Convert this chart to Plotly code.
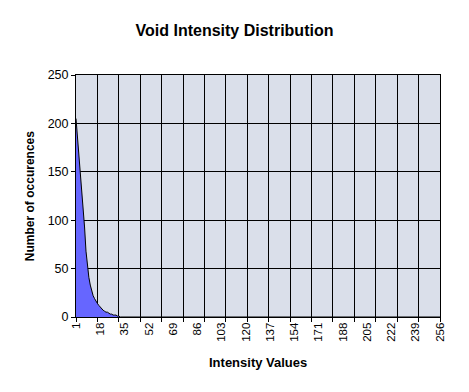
import plotly.graph_objects as go

# Data
categories = list(range(1, 257))
head_values = [205, 186, 175, 150, 131, 112, 93, 68, 52, 41, 33, 27, 22, 19, 16,
               14, 12, 10, 9, 7, 6, 5, 5, 4, 3, 3, 2, 2, 2, 1, 1]
occurrences = head_values + [0] * (len(categories) - len(head_values))
tick_labels = [str(v) for v in range(1, 257, 17)]
tick_label_vals = list(range(1, 257, 17))
grid_vals = list(range(1, 257, 15))

FONT = "Liberation Sans, Arial, sans-serif"

fig = go.Figure()
fig.add_trace(go.Scatter(
    x=categories, y=occurrences, mode="lines", fill="tozeroy",
    fillcolor="#6666FF", line=dict(color="black", width=1),
    hoverinfo="x+y", showlegend=False,
))
# invisible helper trace for grid axis
fig.add_trace(go.Scatter(x=[1, 256], y=[0, 0], xaxis="x2", mode="markers",
                         marker=dict(opacity=0), showlegend=False, hoverinfo="skip"))

fig.update_layout(
    width=469, height=392,
    margin=dict(l=76, r=29, t=75, b=75),
    paper_bgcolor="white",
    plot_bgcolor="#DADFEA",
    font=dict(family=FONT, size=11, color="black"),
    title=dict(text="<b>Void Intensity Distribution</b>", x=0.5, xanchor="center",
               y=1 - 30 / 392, yanchor="middle", font=dict(size=16, family=FONT, color="black")),
    xaxis=dict(
        range=[1, 256], tickmode="array", tickvals=tick_label_vals, ticktext=tick_labels,
        tickangle=-90, ticks="", showgrid=False, zeroline=False,
        showline=True, linecolor="black", linewidth=1, mirror=True,
        tickfont=dict(size=11.5, family=FONT, color="black"),
    ),
    xaxis2=dict(
        range=[1, 256], overlaying="x", anchor="y", side="bottom",
        tickmode="array", tickvals=grid_vals, showticklabels=False,
        ticks="outside", ticklen=4, tickcolor="black",
        showgrid=True, gridcolor="black", gridwidth=1, zeroline=False, showline=False,
    ),
    yaxis=dict(
        range=[0, 250], dtick=50, tick0=0, ticks="outside", ticklen=4, tickcolor="black",
        showgrid=True, gridcolor="black", gridwidth=1, zeroline=False,
        showline=True, linecolor="black", linewidth=1, mirror=True,
        tickfont=dict(size=12.5, family=FONT, color="black"),
    ),
    annotations=[
        dict(text="<b>Number of occurences</b>", xref="paper", yref="paper",
             x=-0.126, y=0.5, xanchor="center", yanchor="middle", textangle=-90,
             showarrow=False, font=dict(size=12, family=FONT, color="black")),
        dict(text="<b>Intensity Values</b>", xref="paper", yref="paper",
             x=0.5, y=-0.187, xanchor="center", yanchor="middle",
             showarrow=False, font=dict(size=13, family=FONT, color="black")),
    ],
)

fig.write_html("out.html", config={"displayModeBar": False},
               post_script="document.body.style.margin='0';")
